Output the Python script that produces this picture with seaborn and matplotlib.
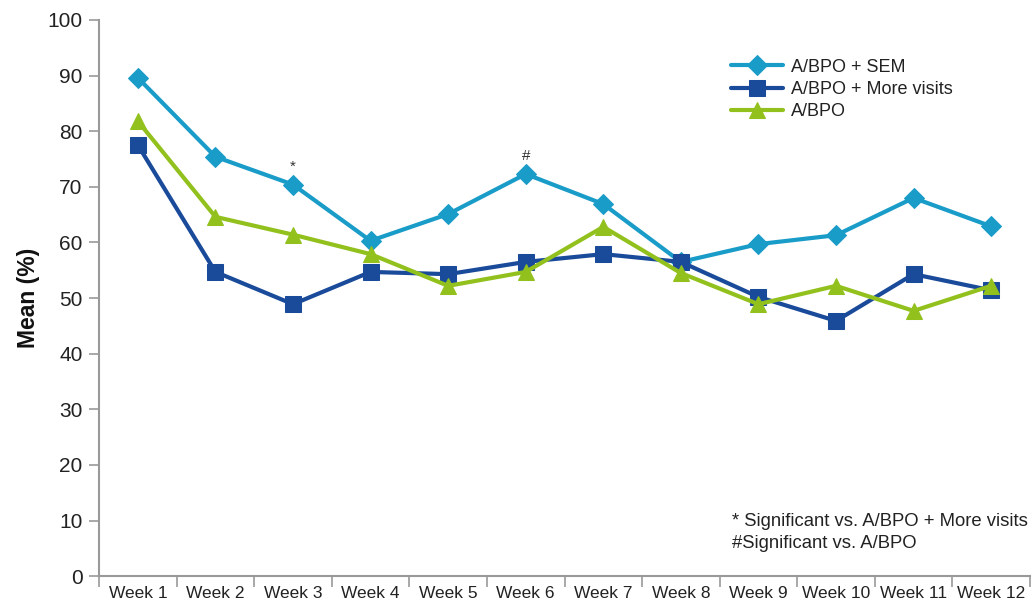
import matplotlib
matplotlib.use("Agg")
import matplotlib.pyplot as plt
import seaborn as sns
import pandas as pd
import numpy as np

weeks = [f"Week {i}" for i in range(1, 13)]
sem = [89.6, 75.4, 70.4, 60.3, 65.1, 72.3, 66.9, 56.5, 59.7, 61.3, 68.0, 62.9]
more_visits = [77.5, 54.7, 48.9, 54.7, 54.3, 56.5, 57.9, 56.5, 50.2, 45.9, 54.3, 51.4]
abpo = [81.8, 64.6, 61.4, 57.9, 52.2, 54.7, 62.8, 54.5, 48.9, 52.2, 47.7, 52.2]
series_names = ["A/BPO + SEM", "A/BPO + More visits", "A/BPO"]
colors = ["#1a9cc9", "#1a4a9a", "#92c11e"]
markers = ["D", "s", "^"]
yticks = list(range(0, 101, 10))
notes = ["* Significant vs. A/BPO + More visits", "#Significant vs. A/BPO"]
sig_marks = [("*", 2, 70.4), ("#", 5, 72.3)]

sns.set_style("white")
plt.rcParams['font.family'] = ['Liberation Sans', 'DejaVu Sans']

df = pd.DataFrame({
    "week": weeks * 3,
    "x": list(range(12)) * 3,
    "value": sem + more_visits + abpo,
    "group": [series_names[0]] * 12 + [series_names[1]] * 12 + [series_names[2]] * 12,
})

fig = plt.figure(figsize=(10.32, 6.04), dpi=100)
ax = fig.add_axes([0.096, 0.046, 0.902, 0.921])

msizes = [10, 11, 11]
for name, c, m, ms in zip(series_names, colors, markers, msizes):
    sub = df[df["group"] == name]
    sns.lineplot(data=sub, x="x", y="value", ax=ax, color=c, marker=m,
                 markersize=ms, linewidth=3, markeredgecolor=c, label=name)

ax.set_xlim(-0.5, 11.5)
ax.set_ylim(0, 100)
ax.set_yticks(yticks)
ax.set_xticks(range(12))
ax.set_xticklabels(weeks, fontsize=12.5, color="#222222")
ax.set_xticks(np.arange(-0.5, 12, 1), minor=True)
ax.tick_params(axis="x", which="major", length=0, pad=7)
ax.tick_params(axis="x", which="minor", length=8, width=1.2, color="#999999", direction="out")
ax.tick_params(axis="y", length=7, width=1.2, color="#999999", direction="out", labelsize=15, labelcolor="#222222", pad=5)
ax.tick_params(bottom=True, left=True, which="both")
for s in ["top", "right"]:
    ax.spines[s].set_visible(False)
for s in ["left", "bottom"]:
    ax.spines[s].set_color("#999999")
    ax.spines[s].set_linewidth(1.5)

ax.set_xlabel("")
ax.set_ylabel("Mean (%)", fontsize=16.5, fontweight="bold", labelpad=5, color="#111111")

for sym, xi, yv in sig_marks:
    ax.text(xi, yv + 2, sym, ha="center", va="bottom", fontsize=11, color="#333333")

leg = ax.legend(loc="upper left", bbox_to_anchor=(0.708, 0.903), bbox_transform=fig.transFigure,
                frameon=False, fontsize=13, handlelength=2.9, handletextpad=0.45,
                labelspacing=0.3, borderpad=0, borderaxespad=0)
for t in leg.get_texts():
    t.set_color("#222222")

fig.text(0.709, 1 - 521 / 604, notes[0], fontsize=13.3, va="center", ha="left", color="#222222")
fig.text(0.709, 1 - 544 / 604, notes[1], fontsize=13.3, va="center", ha="left", color="#222222")

fig.savefig("out.png", dpi=100)
